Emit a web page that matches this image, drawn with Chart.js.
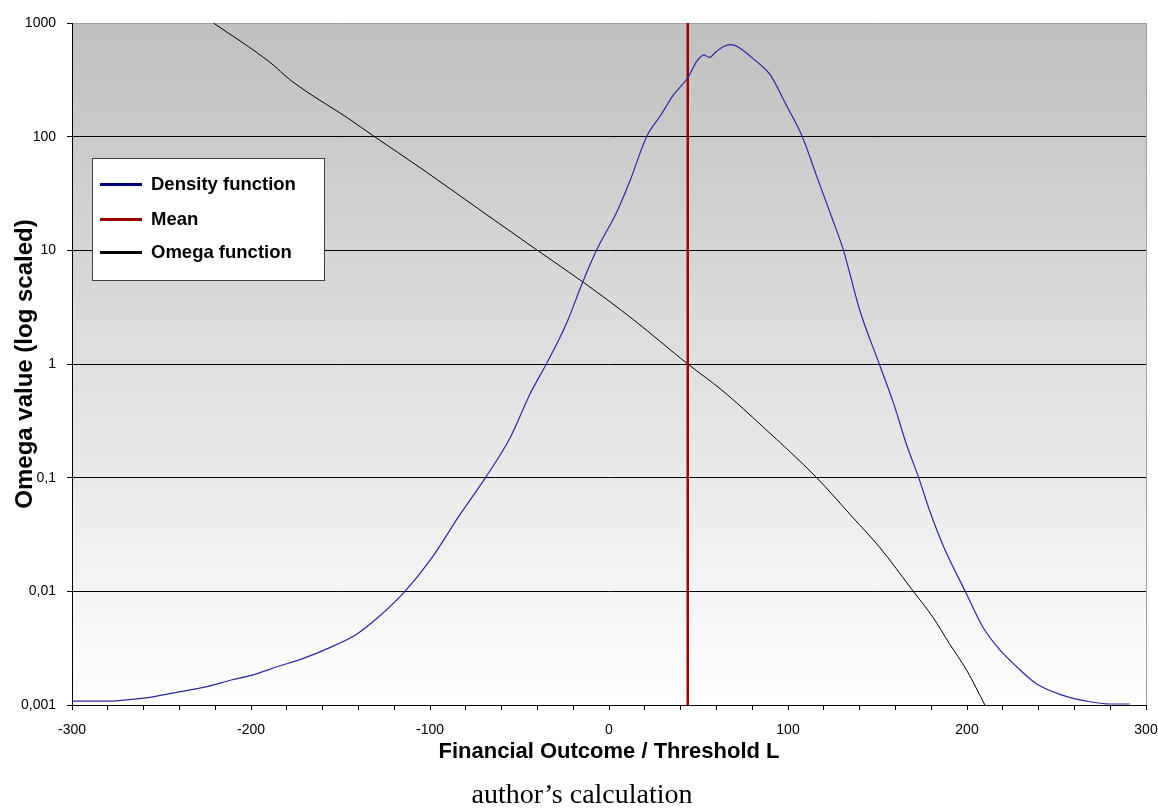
<!DOCTYPE html>
<html lang="en">
<head>
    <meta charset="UTF-8">
    <title>Omega function</title>
    <script src="https://cdn.jsdelivr.net/npm/chart.js"></script>
    <style>
        body { margin: 0; background: white; }
        #wrap { width: 1158px; height: 810px; position: relative; }
    </style>
</head>
<body>
    <div id="wrap">
        <canvas id="myChart" width="1158" height="810"></canvas>
    </div>

    <script>
        // density of the financial outcome
        const densityX = [-300, -282, -260, -243, -224, -211, -200, -185, -170, -156, -141, -128, -114, -100, -83, -69,
            -55, -44, -35, -29, -23, -15, -7, 4.5, 12, 21, 29, 36, 44, 49, 53, 56, 60, 64, 68, 73, 79, 84.5, 90, 99,
            108, 116, 125, 131, 140, 151, 159, 166, 173, 179, 187, 199, 209, 218, 228, 239, 254, 267, 280, 291];
        const densityY = [0.00108, 0.00108, 0.00115, 0.00128, 0.00146, 0.00166, 0.00182, 0.00218, 0.0026, 0.0032, 0.0042, 0.0061, 0.01, 0.0187, 0.048, 0.1,
            0.228, 0.55, 1.0, 1.52, 2.43, 5.1, 10, 22, 42, 100, 155, 233, 330, 459, 525, 498, 562, 622, 644, 603, 508, 430, 351, 190,
            100, 45, 18.5, 10, 3.0, 1, 0.45, 0.2, 0.1, 0.052, 0.0246, 0.01, 0.0048, 0.0031, 0.00215, 0.00153, 0.00121, 0.00108, 0.00102, 0.00102];

        // omega function
        const omegaX = [-221, -190, -177, -146, -131, -105, -72, -40, -14, 14, 44, 63, 86, 116, 136, 151, 170, 181, 190, 200, 210];
        const omegaY = [1000, 459, 306, 146, 100, 52.7, 22.6, 10, 5.19, 2.43, 1, 0.59, 0.28, 0.1, 0.045, 0.0246, 0.01, 0.0059, 0.0035, 0.002, 0.001];

        const meanValue = 44;

        const yTickValues = [0.001, 0.01, 0.1, 1, 10, 100, 1000];
        const yTickLabels = ['0,001', '0,01', '0,1', '1', '10', '100', '1000'];

        const FONT = '"Liberation Sans", Arial, sans-serif';

        const toPoints = (xs, ys) => xs.map((x, i) => ({ x: x, y: ys[i] }));

        const backgroundPlugin = {
            id: 'plotBackground',
            beforeDraw(chart) {
                const { ctx, chartArea: a } = chart;
                const g = ctx.createLinearGradient(0, a.top, 0, a.bottom);
                g.addColorStop(0, '#c0c0c0');
                g.addColorStop(1, '#ffffff');
                ctx.save();
                ctx.fillStyle = g;
                ctx.fillRect(a.left, a.top, a.right - a.left, a.bottom - a.top);
                ctx.restore();
            },
            afterDraw(chart) {
                const { ctx, chartArea: a } = chart;
                ctx.save();
                // right border of the plot
                ctx.strokeStyle = '#a0a0a0';
                ctx.lineWidth = 1;
                ctx.beginPath();
                ctx.moveTo(a.right + 0.5, a.top);
                ctx.lineTo(a.right + 0.5, a.bottom);
                ctx.stroke();

                // legend box
                const bx = 92, by = 158, bw = 232, bh = 122;
                ctx.fillStyle = '#ffffff';
                ctx.fillRect(bx, by, bw, bh);
                ctx.strokeStyle = '#404040';
                ctx.strokeRect(bx + 0.5, by + 0.5, bw, bh);
                const rows = [184.5, 219.5, 252.5];
                ctx.font = 'bold 18.5px ' + FONT;
                ctx.textBaseline = 'middle';
                ctx.textAlign = 'left';
                chart.data.datasets.forEach((ds, i) => {
                    ctx.strokeStyle = ds.legendColor;
                    ctx.lineWidth = 3;
                    ctx.beginPath();
                    ctx.moveTo(100, rows[i]);
                    ctx.lineTo(142, rows[i]);
                    ctx.stroke();
                    ctx.fillStyle = '#000';
                    ctx.fillText(ds.label, 151, rows[i]);
                });

                // source line
                ctx.font = '28px "Liberation Serif", "Times New Roman", serif';
                ctx.textAlign = 'center';
                ctx.textBaseline = 'alphabetic';
                ctx.fillText('author\u2019s calculation', 582, 803);
                ctx.restore();
            }
        };

        const ctx = document.getElementById('myChart').getContext('2d');
        const config = {
            type: 'line',
            data: {
                datasets: [{
                    label: 'Density function',
                    data: toPoints(densityX, densityY),
                    borderColor: '#2a2a9e',
                    legendColor: '#000080',
                    borderWidth: 1.2,
                    cubicInterpolationMode: 'monotone'
                }, {
                    label: 'Mean',
                    data: [{ x: meanValue, y: 0.001 }, { x: meanValue, y: 1000 }],
                    borderColor: '#990000',
                    legendColor: '#990000',
                    borderWidth: 2.5
                }, {
                    label: 'Omega function',
                    data: toPoints(omegaX, omegaY),
                    borderColor: '#000000',
                    legendColor: '#000000',
                    borderWidth: 1,
                    cubicInterpolationMode: 'monotone'
                }]
            },
            options: {
                responsive: false,
                animation: false,
                layout: { padding: { top: 23, right: 12, left: 0, bottom: 0 } },
                elements: { point: { radius: 0 } },
                scales: {
                    x: {
                        type: 'linear',
                        min: -300,
                        max: 300,
                        afterFit: s => { s.height = 105; s.paddingRight = 0; s.paddingLeft = 0; },
                        border: { color: '#000', width: 1 },
                        grid: { drawOnChartArea: false, color: '#000', tickLength: 5 },
                        ticks: {
                            stepSize: 20,
                            autoSkip: false,
                            maxRotation: 0,
                            padding: 12,
                            color: '#000',
                            font: { family: FONT, size: 14 },
                            callback: v => (v % 100 === 0 ? String(v) : '')
                        },
                        title: {
                            display: true,
                            text: 'Financial Outcome / Threshold L',
                            color: '#000',
                            font: { family: FONT, size: 22, weight: 'bold' },
                            padding: { top: 0, bottom: 45 }
                        }
                    },
                    y: {
                        type: 'logarithmic',
                        min: 0.001,
                        max: 1000,
                        afterFit: s => { s.width = 72; },
                        afterBuildTicks: s => { s.ticks = yTickValues.map(v => ({ value: v })); },
                        border: { color: '#000', width: 1 },
                        grid: {
                            color: c => (c.tick && c.tick.value === 1000 ? '#a0a0a0' : '#000'),
                            tickColor: '#000',
                            lineWidth: 1,
                            tickLength: 5
                        },
                        ticks: {
                            padding: 11,
                            color: '#000',
                            font: { family: FONT, size: 14 },
                            callback: v => yTickLabels[yTickValues.indexOf(v)]
                        },
                        title: {
                            display: true,
                            text: 'Omega value (log scaled)',
                            color: '#000',
                            font: { family: FONT, size: 24, weight: 'bold' },
                            padding: { top: 11, bottom: 0 }
                        }
                    }
                },
                plugins: {
                    legend: { display: false },
                    tooltip: { enabled: false }
                }
            },
            plugins: [backgroundPlugin]
        };

        const myChart = new Chart(ctx, config);
    </script>
</body>
</html>
